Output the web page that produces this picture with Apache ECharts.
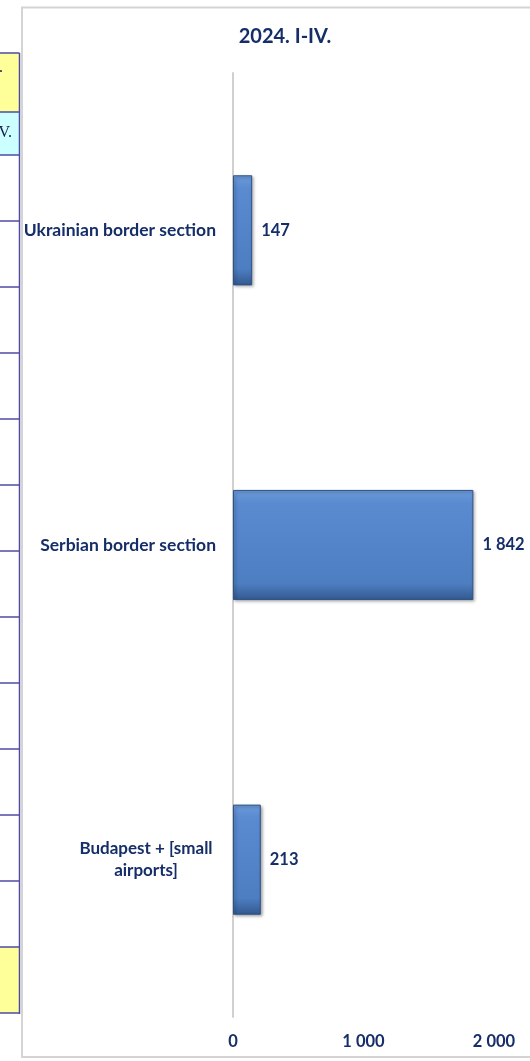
<!DOCTYPE html>
<html>
<head>
<meta charset="utf-8">
<script src="https://cdn.jsdelivr.net/npm/echarts@6/dist/echarts.min.js"></script>
<style>
  html, body { margin: 0; padding: 0; background: #ffffff; }
  #chart { width: 530px; height: 1061px; }
</style>
</head>
<body>
<div id="chart"></div>
<script>
// ---- data ----
const titleText = '2024. I-IV.';
const categories = ['Ukrainian border section', 'Serbian border section', 'Budapest + [small airports]'];
const values = [147, 1842, 213];
const xTickValues = [0, 1000, 2000];
const tableTexts = ['2024.', 'I-IV.'];

const FONT = 'Lato, "Open Sans", "Liberation Sans", sans-serif';
const NAVY = '#152D68';

function fmt(v) {
  return String(v).replace(/\B(?=(\d{3})+(?!\d))/g, ' ');
}

// ---- decoration: fragment of the neighbouring table on the left ----
const tableGraphics = [];
const tableX = 19.5;
tableGraphics.push({ type: 'rect', shape: { x: 0, y: 53, width: tableX, height: 59 }, style: { fill: '#FFFF99' }, silent: true });
tableGraphics.push({ type: 'rect', shape: { x: 0, y: 112, width: tableX, height: 43 }, style: { fill: '#CCFFFF' }, silent: true });
tableGraphics.push({ type: 'rect', shape: { x: 0, y: 947, width: tableX, height: 66 }, style: { fill: '#FFFF99' }, silent: true });
const rowLines = [53, 112, 155];
for (let y = 155 + 66; y <= 1013; y += 66) rowLines.push(y);
rowLines.forEach(y => {
  tableGraphics.push({ type: 'line', shape: { x1: 0, y1: y, x2: tableX, y2: y }, style: { stroke: '#4B4BA3', lineWidth: 1.5 }, silent: true });
});
tableGraphics.push({ type: 'line', shape: { x1: tableX, y1: 53, x2: tableX, y2: 1014 }, style: { stroke: '#4B4BA3', lineWidth: 1.5 }, silent: true });
tableGraphics.push({ type: 'text', x: 3, y: 60, style: { text: tableTexts[0], font: '16px "Liberation Serif", serif', fill: '#1a1a4a', align: 'right', verticalAlign: 'top' }, silent: true });
tableGraphics.push({ type: 'text', x: 12, y: 125, style: { text: tableTexts[1], font: '16px "Liberation Serif", serif', fill: '#1a1a4a', align: 'right', verticalAlign: 'top' }, silent: true });

// chart frame
const frame = { type: 'rect', z: -10, shape: { x: 22, y: 7.5, width: 520, height: 1049.5 }, style: { fill: '#ffffff', stroke: '#D4D4D4', lineWidth: 2 }, silent: true };

const chart = echarts.init(document.getElementById('chart'), null, { renderer: 'canvas' });

chart.setOption({
  backgroundColor: '#ffffff',
  animation: false,
  title: {
    text: titleText,
    left: 280,
    top: 22,
    textAlign: 'center',
    textStyle: { fontFamily: FONT, fontSize: 20, fontWeight: 'bold', color: NAVY }
  },
  graphic: [frame].concat(tableGraphics.map(g => Object.assign({ z: -5 }, g))),
  grid: { left: 233, right: 36, top: 73, bottom: 44, containLabel: false },
  xAxis: {
    type: 'value',
    min: xTickValues[0],
    max: xTickValues[xTickValues.length - 1],
    interval: xTickValues[1] - xTickValues[0],
    axisLine: { show: false },
    axisTick: { show: false },
    splitLine: { show: false },
    axisLabel: {
      margin: 16,
      fontFamily: FONT, fontSize: 16.5, fontWeight: 'bold', color: NAVY,
      formatter: v => fmt(v)
    }
  },
  yAxis: {
    type: 'category',
    inverse: true,
    data: categories,
    axisLine: { show: true, lineStyle: { color: '#D0D0D0', width: 2 } },
    axisTick: { show: false },
    axisLabel: {
      margin: 17,
      fontFamily: FONT, fontSize: 17.5, fontWeight: 'bold', color: NAVY,
      formatter: function (v) {
        if (v.length > 25) {
          const i = v.lastIndexOf(' ');
          return '{c|' + v.slice(0, i) + '}\n{c|' + v.slice(i + 1) + '}';
        }
        return v;
      },
      rich: {
        c: { width: 140, align: 'center', fontFamily: FONT, fontSize: 17, fontWeight: 'bold', color: NAVY, lineHeight: 22 }
      }
    }
  },
  series: [{
    type: 'bar',
    data: values,
    barCategoryGap: '65%',
    itemStyle: {
      color: new echarts.graphic.LinearGradient(0, 0, 0, 1, [
        { offset: 0, color: '#6C9BDA' },
        { offset: 0.12, color: '#5A8AD0' },
        { offset: 0.85, color: '#4D7EC2' },
        { offset: 1, color: '#33598F' }
      ]),
      borderColor: '#2E5286',
      borderWidth: 1,
      shadowColor: 'rgba(0,0,0,0.35)',
      shadowBlur: 3,
      shadowOffsetX: 1.5,
      shadowOffsetY: 1.5
    },
    label: {
      show: true,
      position: 'right',
      distance: 9,
      fontFamily: FONT, fontSize: 16.5, fontWeight: 'bold', color: NAVY,
      formatter: p => fmt(p.value)
    }
  }]
});
</script>
</body>
</html>
